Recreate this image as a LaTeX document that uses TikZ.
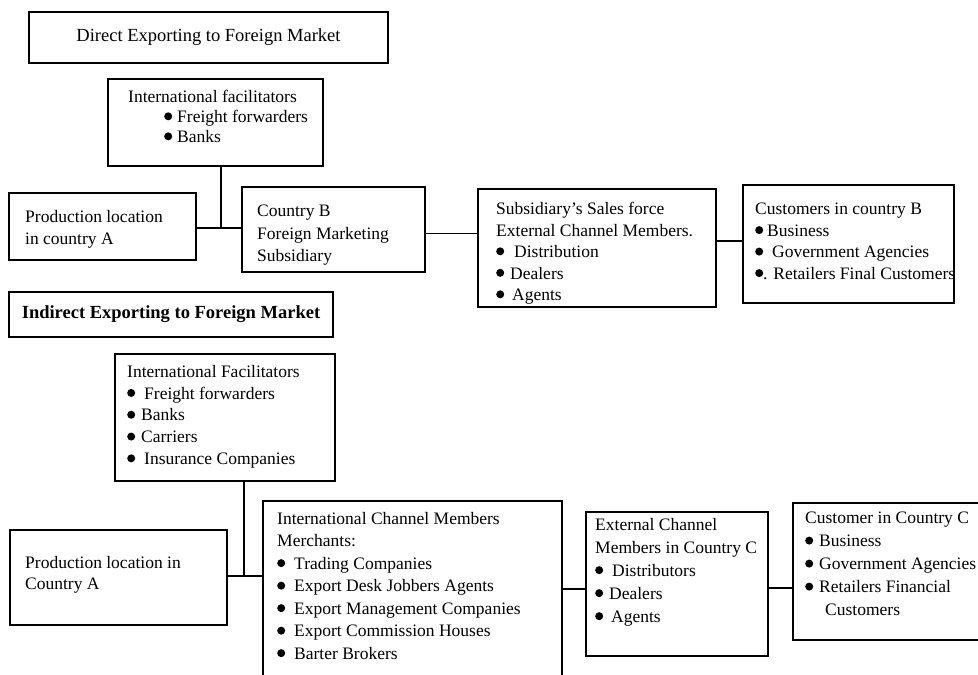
\documentclass[tikz,border=0pt]{standalone}
\usepackage{fontspec}
\setmainfont{Liberation Serif}
\newcommand{\bl}{\tikz[x=1pt,y=1pt,baseline=-6.2pt]\fill[black] (0,0) circle (4pt);}
\begin{document}
\begin{tikzpicture}[x=1pt,y=-1pt,
  box/.style={draw=black,line width=1.3pt,inner sep=0pt,shape=rectangle},
  title/.style={box,font=\fontsize{18.5}{22}\selectfont},
  txt/.style={anchor=north west,inner sep=0pt,align=left,font=\fontsize{17.5}{22.5}\selectfont},
  conn/.style={draw=black,line width=1.3pt}]
\useasboundingbox (0,0) rectangle (978,675);
\clip (0,0) rectangle (978,675);
\fill[white] (0,0) rectangle (978,675);
% ---------- Direct exporting ----------
\node[title,minimum width=359pt,minimum height=51pt] (title1) at (208.5,37.5) {Direct Exporting to Foreign Market};
\node[box,minimum width=215pt,minimum height=87pt] (facil1) at (215.5,122.5) {};
\node[txt,font=\fontsize{17.5}{20}\selectfont] (facil1t) at (128,90) {International facilitators\\
\hspace*{36pt}\bl\hspace{5pt}Freight forwarders\\
\hspace*{36pt}\bl\hspace{5pt}Banks};
\node[box,minimum width=187pt,minimum height=67pt] (prodA1) at (102.5,226.5) {};
\node[txt] (prodA1t) at (25,210) {Production location\\ in country A};
\node[box,minimum width=183pt,minimum height=85pt] (cB) at (333.5,229.5) {};
\node[txt] (cBt) at (257,205) {Country B\\ Foreign Marketing\\ Subsidiary};
\node[box,minimum width=238pt,minimum height=118pt] (sub) at (597,248) {};
\node[txt,font=\fontsize{17.5}{21.5}\selectfont] (subt) at (496,202) {Subsidiary's Sales force\\
External Channel Members.\\
\bl\hspace{10pt}Distribution\\
\bl\hspace{6pt}Dealers\\
\bl\hspace{8pt}Agents};
\node[box,minimum width=211pt,minimum height=118pt] (custB) at (848.5,244) {};
\node[txt,font=\fontsize{17.5}{21.5}\selectfont] (custBt) at (755,203) {Customers in country B\\
\bl\hspace{4pt}Business\\
\bl\hspace{9pt}Government Agencies\\
\bl. Retailers Final Customers};
\coordinate (j1) at (221,228);
\draw[conn] (facil1.south -| j1) -- (j1);
\draw[conn] (prodA1.east |- j1) -- (cB.west |- j1);
\draw[conn] ([yshift=-4pt]cB.east) -- ([yshift=-4pt]cB.east -| sub.west);
\draw[conn] ([yshift=7pt]sub.east) -- ([yshift=7pt]sub.east -| custB.west);
% ---------- Indirect exporting ----------
\node[title,font=\fontsize{18.5}{22}\selectfont\bfseries,minimum width=324pt,minimum height=45pt] (title2) at (171,314.5) {Indirect Exporting to Foreign Market};
\node[box,minimum width=220pt,minimum height=127pt] (facil2) at (225,417.5) {};
\node[txt,font=\fontsize{17.5}{21.8}\selectfont] (facil2t) at (127,365) {International Facilitators\\
\bl\hspace{9pt}Freight forwarders\\
\bl\hspace{6pt}Banks\\
\bl\hspace{6pt}Carriers\\
\bl\hspace{9pt}Insurance Companies};
\node[box,minimum width=217pt,minimum height=95pt] (prodA2) at (118.5,577.5) {};
\node[txt,font=\fontsize{17.5}{21}\selectfont] (prodA2t) at (25,556) {Production location in\\ Country A};
\node[box,minimum width=299pt,minimum height=219pt] (chan) at (412.5,610.5) {};
\node[txt] (chant) at (277,512) {International Channel Members\\
Merchants:\\
\bl\hspace{9pt}Trading Companies\\
\bl\hspace{9pt}Export Desk Jobbers Agents\\
\bl\hspace{9pt}Export Management Companies\\
\bl\hspace{9pt}Export Commission Houses\\
\bl\hspace{9pt}Barter Brokers};
\node[box,minimum width=182pt,minimum height=144pt] (ext) at (677,584) {};
\node[txt,font=\fontsize{17.5}{23}\selectfont] (extt) at (595,518) {External Channel\\
Members in Country C\\
\bl\hspace{9pt}Distributors\\
\bl\hspace{6pt}Dealers\\
\bl\hspace{8pt}Agents};
\node[box,minimum width=217pt,minimum height=137pt] (custC) at (901.5,571.5) {};
\node[txt,font=\fontsize{17.5}{23}\selectfont] (custCt) at (805,512) {Customer in Country C\\
\bl\hspace{6pt}Business\\
\bl\hspace{6pt}Government Agencies\\
\bl\hspace{6pt}Retailers Financial\\
\hspace*{20pt}Customers};
\coordinate (j2) at (244,576);
\draw[conn] (facil2.south -| j2) -- (j2);
\draw[conn] (prodA2.east |- j2) -- (chan.west |- j2);
\draw[conn] ([yshift=-5pt]ext.west) -- ([yshift=-5pt]ext.west -| chan.east);
\draw[conn] ([yshift=-4pt]ext.east) -- ([yshift=-4pt]ext.east -| custC.west);
\end{tikzpicture}
\end{document}
